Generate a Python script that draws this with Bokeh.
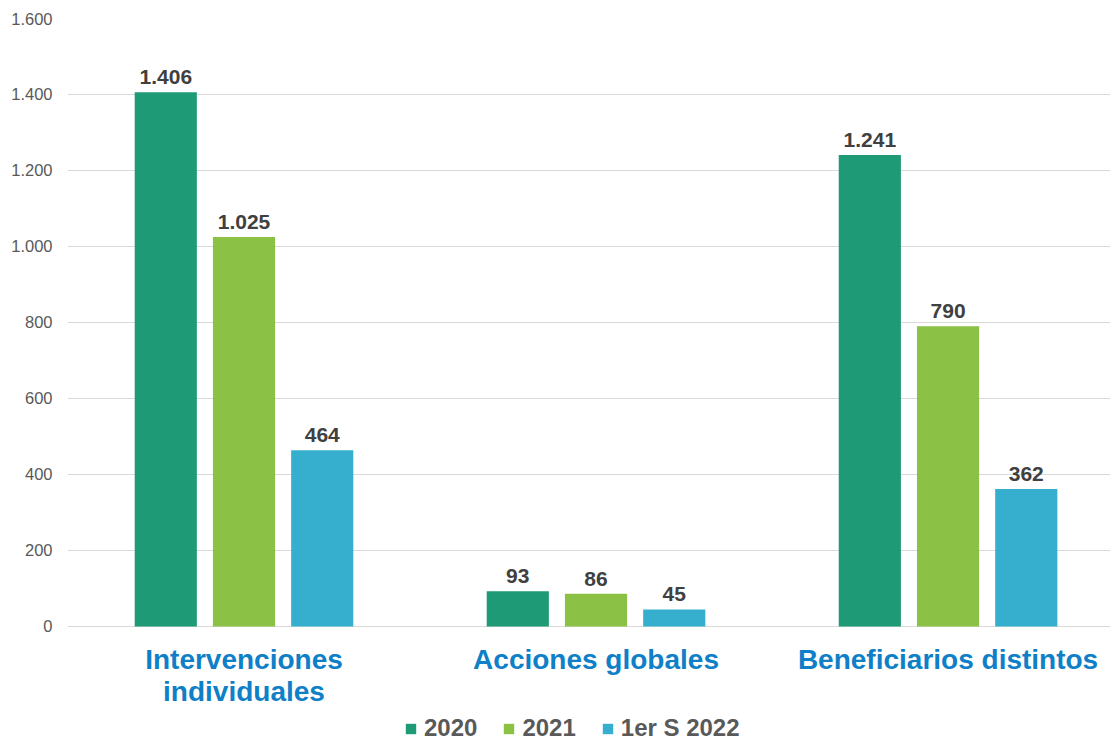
from bokeh.plotting import figure
from bokeh.models import ColumnDataSource, FixedTicker, Legend, LegendItem
from bokeh.core.properties import value
from bokeh.embed import file_html
from bokeh.resources import INLINE

categories = ["Intervenciones\nindividuales", "Acciones globales", "Beneficiarios distintos"]
series = ["2020", "2021", "1er S 2022"]
v2020 = [1406, 93, 1241]
v2021 = [1025, 86, 790]
v2022 = [464, 45, 362]
colors = ["#1f9a77", "#8bc145", "#36afcf"]
y_ticks = [0, 200, 400, 600, 800, 1000, 1200, 1400, 1600]

def fmt(n):
    return f"{n:,}".replace(",", ".")

FONT = "Liberation Sans"

# frame: 724 px tall, 608 px for 0..1600 -> extra room below zero for labels/legend
p = figure(width=1110, height=742, output_backend="svg", toolbar_location=None,
           x_range=(-0.5014, 2.4615), y_range=(-305.3, 1600),
           min_border_left=67, min_border_right=0, min_border_top=18, min_border_bottom=0)
p.outline_line_color = None
p.background_fill_color = "white"

offsets = [-0.2222, 0.0, 0.2222]
bw = 0.1766
renderers = []
for vals, off, col, name in zip([v2020, v2021, v2022], offsets, colors, series):
    xs = [i + off for i in range(len(categories))]
    src = ColumnDataSource(dict(x=xs, top=vals, lab=[fmt(v) for v in vals]))
    r = p.vbar(x="x", top="top", width=bw, bottom=0, source=src, fill_color=col, line_color=None)
    renderers.append((name, r))
    p.text(x="x", y="top", text="lab", source=src, text_align="center", text_baseline="bottom",
           y_offset=-8, text_font=value(FONT), text_font_style="bold", text_font_size="21px",
           text_color="#404040")

# category labels
csrc = ColumnDataSource(dict(x=list(range(len(categories))), y=[0] * len(categories), t=categories))
p.text(x="x", y="y", text="t", source=csrc, text_align="center", text_baseline="top",
       y_offset=18, text_font=value(FONT), text_font_style="bold", text_font_size="28px",
       text_color="#0f7fc8", text_line_height=1.02)

# axes
p.yaxis.ticker = FixedTicker(ticks=y_ticks)
p.yaxis.major_label_overrides = {t: fmt(t) for t in y_ticks}
p.yaxis.axis_line_color = None
p.yaxis.major_tick_line_color = None
p.yaxis.minor_tick_line_color = None
p.yaxis.major_tick_out = 0
p.yaxis.major_tick_in = 0
p.yaxis.major_label_text_font = FONT
p.yaxis.major_label_text_font_size = "16.5px"
p.yaxis.major_label_text_color = "#595959"
p.yaxis.major_label_standoff = 15
p.xaxis.visible = False

p.xgrid.grid_line_color = None
p.ygrid.grid_line_color = "#d9d9d9"
p.ygrid.grid_line_width = 1
p.ygrid.ticker = FixedTicker(ticks=y_ticks)

legend = Legend(items=[LegendItem(label=n, renderers=[r]) for n, r in renderers],
                orientation="horizontal", location=(337, 0))
legend.label_text_font = FONT
legend.label_text_font_size = "24px"
legend.label_text_font_style = "bold"
legend.label_text_color = "#595959"
legend.glyph_width = 13
legend.glyph_height = 13
legend.spacing = 25
legend.label_standoff = 7
legend.border_line_color = None
legend.background_fill_alpha = 0
legend.padding = 0
legend.margin = 0
p.add_layout(legend, "center")

open("out.html", "w").write(file_html(p, INLINE))
